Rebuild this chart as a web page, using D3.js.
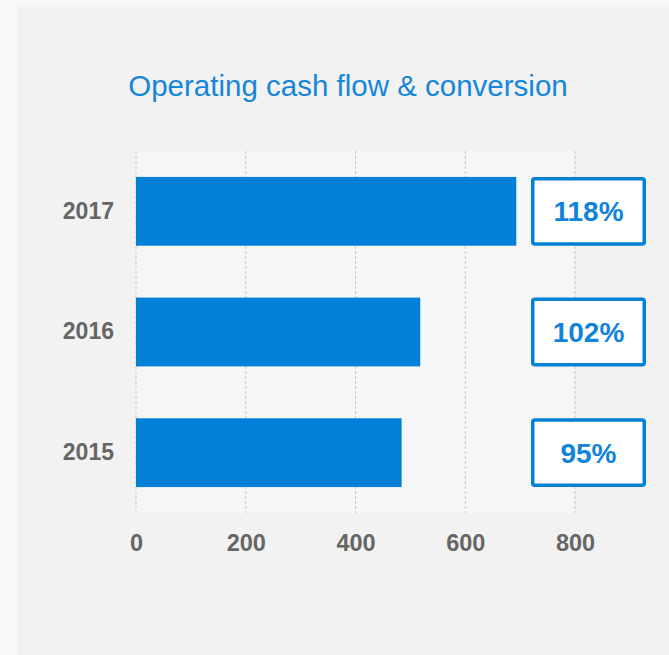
<!DOCTYPE html>
<html>
<head>
<meta charset="utf-8">
<script src="https://cdn.jsdelivr.net/npm/d3@7"></script>
<style>
  body { margin: 0; background: #f8f8f8; }
  svg { display: block; }
</style>
</head>
<body>
<div id="chart"></div>
<script>
const width = 669;
const height = 655;

// data
const years = ["2017", "2016", "2015"];
const cashFlow = [693, 518, 484];
const conversion = ["118%", "102%", "95%"];
const ticks = [0, 200, 400, 600, 800];

const blue = "#0180d7";
const grey = "#666666";

const plot = { left: 136, right: 575, top: 151, bottom: 513 };

const svg = d3.select("#chart")
  .append("svg")
  .attr("width", width)
  .attr("height", height);

// outer panel
svg.append("rect")
  .attr("x", 17)
  .attr("y", 7)
  .attr("width", width - 17)
  .attr("height", height - 7)
  .attr("fill", "#f2f2f2");

// plot area, a little lighter
svg.append("rect")
  .attr("x", plot.left)
  .attr("y", plot.top)
  .attr("width", plot.right - plot.left)
  .attr("height", plot.bottom - plot.top)
  .attr("fill", "#f6f6f6");

svg.append("text")
  .attr("x", 348)
  .attr("y", 96)
  .attr("text-anchor", "middle")
  .attr("font-family", "Liberation Sans, Arial, sans-serif")
  .attr("font-size", 29.5)
  .attr("fill", "#1586da")
  .text("Operating cash flow & conversion");

const x = d3.scaleLinear()
  .domain([0, 800])
  .range([plot.left, plot.right]);

const y = d3.scaleBand()
  .domain(years)
  .range([plot.top, plot.bottom])
  .paddingInner(0.43)
  .paddingOuter(0.215);

// dashed gridlines
svg.append("g")
  .selectAll("line")
  .data(ticks)
  .join("line")
  .attr("x1", d => x(d))
  .attr("x2", d => x(d))
  .attr("y1", plot.top)
  .attr("y2", plot.bottom)
  .attr("stroke", "#c8c8c8")
  .attr("stroke-width", 1)
  .attr("stroke-dasharray", "3,2");

// bottom axis, just the labels
const xAxis = svg.append("g")
  .attr("transform", `translate(0, ${plot.bottom})`)
  .call(d3.axisBottom(x).tickValues(ticks).tickSize(0).tickPadding(21));
xAxis.select(".domain").remove();
xAxis.selectAll("text")
  .attr("font-family", "Liberation Sans, Arial, sans-serif")
  .attr("font-size", 23.5)
  .attr("font-weight", "bold")
  .attr("fill", grey);

// left axis, year labels
const yAxis = svg.append("g")
  .attr("transform", `translate(${plot.left}, 0)`)
  .call(d3.axisLeft(y).tickSize(0).tickPadding(22));
yAxis.select(".domain").remove();
yAxis.selectAll("text")
  .attr("font-family", "Liberation Sans, Arial, sans-serif")
  .attr("font-size", 23)
  .attr("font-weight", "bold")
  .attr("fill", grey);

// bars
svg.append("g")
  .selectAll("rect")
  .data(years)
  .join("rect")
  .attr("x", x(0))
  .attr("y", d => y(d))
  .attr("width", (d, i) => x(cashFlow[i]) - x(0))
  .attr("height", y.bandwidth())
  .attr("fill", blue);

// conversion boxes
const boxLeft = 531;
const boxWidth = 115;
const boxes = svg.append("g")
  .selectAll("g")
  .data(years)
  .join("g");

boxes.append("rect")
  .attr("x", boxLeft + 1.75)
  .attr("y", d => y(d) + 1.75)
  .attr("width", boxWidth - 3.5)
  .attr("height", y.bandwidth() - 3.5)
  .attr("rx", 2)
  .attr("fill", "#ffffff")
  .attr("stroke", blue)
  .attr("stroke-width", 3.5);

boxes.append("text")
  .attr("x", boxLeft + boxWidth / 2)
  .attr("y", d => y(d) + y.bandwidth() / 2)
  .attr("dy", "0.36em")
  .attr("text-anchor", "middle")
  .attr("font-family", "Liberation Sans, Arial, sans-serif")
  .attr("font-size", 28)
  .attr("font-weight", "bold")
  .attr("fill", "#1183d8")
  .text((d, i) => conversion[i]);
</script>
</body>
</html>
